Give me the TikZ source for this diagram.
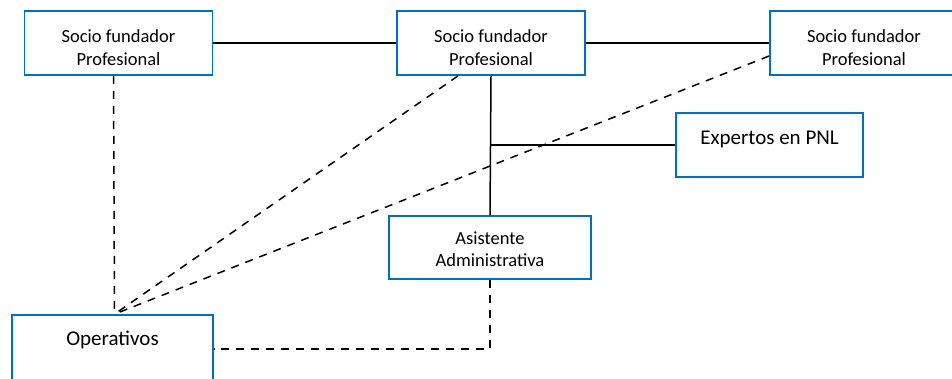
\documentclass[tikz,border=0pt]{standalone}
\usepackage{fontspec}
\setmainfont{Carlito}
\definecolor{cajaazul}{RGB}{0,112,192}
\newcommand{\bajar}[1]{\rule{0pt}{#1pt}}

\begin{document}
\begin{tikzpicture}[x=1pt,y=-1pt,
    puesto/.style ={rectangle, draw=cajaazul, line width=1.8pt, fill=white,
      minimum width=188pt, minimum height=64pt, align=center,
      font=\fontsize{18.5}{22.7}\selectfont},
    grupo/.style ={rectangle, draw=cajaazul, line width=1.8pt, fill=white,
      minimum height=64pt, font=\fontsize{21}{25}\selectfont, text height=14pt},
    enlace/.style ={line width=1.5pt},
    apoyo/.style ={line width=1.5pt, dash pattern=on 8pt off 7pt}]
   \useasboundingbox (0,0) rectangle (952,378);
   \clip (0,0) rectangle (952,378);

   \node[puesto] (S1) at (118.5,43)  {\bajar{21.5}Socio fundador\\Profesional};
   \node[puesto] (S2) at (491,43)  {\bajar{21.5}Socio fundador\\Profesional};
   \node[puesto] (S3) at (864,43)  {\bajar{21.5}Socio fundador\\Profesional};
   \node[grupo, minimum width=187pt, text depth=16pt] (E) at (769.5,145)  {Expertos en PNL};
   \node[puesto, minimum width=202pt, minimum height=63pt] (A) at (490,247.5)  {\bajar{16}Asistente\\Administrativa};
   \node[grupo, minimum width=201pt, minimum height=68pt, text depth=22pt] (O) at (112.5,349)  {Operativos};

   \draw[enlace] (S1) to  (S2);
   \draw[enlace] (S2) to  (S3);
   \draw[enlace] (S2.south) to  (A.north);
   \draw[enlace] (E.west) to  (E.west -| S2.south);

   \draw[apoyo] ([xshift=-5]S1.south) to  ([xshift=2]O.north);
   \draw[apoyo] ([xshift=-33]S2.south) to  ([xshift=2]O.north);
   \draw[apoyo] ([yshift=-13]S3.west) to  ([xshift=2]O.north);
   \draw[apoyo] (A.south) |-  (O.east);
 \end{tikzpicture}
\end{document}
